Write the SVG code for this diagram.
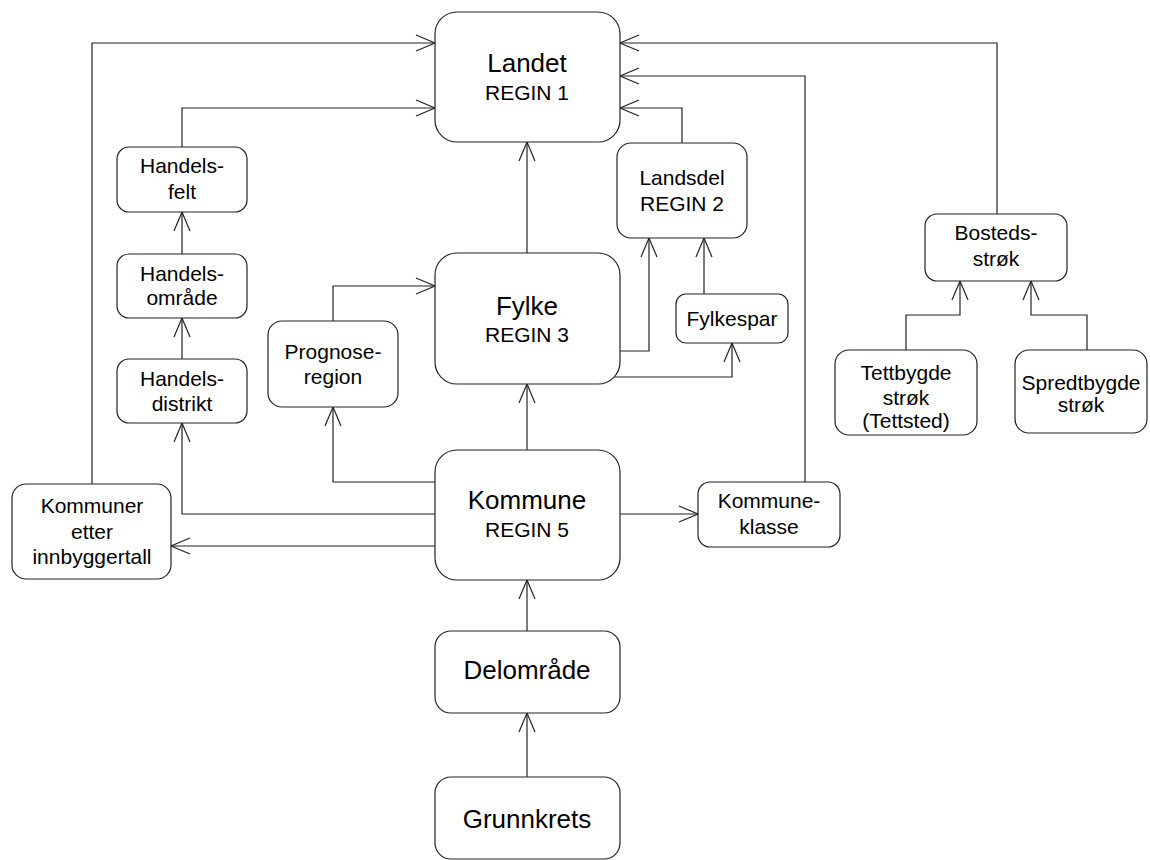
<svg xmlns="http://www.w3.org/2000/svg" width="1150" height="860" viewBox="0 0 1150 860">
<style>
.box{fill:#fff;stroke:#222;stroke-width:1.2}
.ln{fill:none;stroke:#222;stroke-width:1.2;marker-end:url(#ah)}
.lnn{fill:none;stroke:#222;stroke-width:1.2}
text{font-family:"Liberation Sans",Arial,sans-serif;fill:#000;text-anchor:middle}
.big{font-size:26px}
.sm{font-size:21px}
</style>
<defs>
<marker id="ah" markerUnits="userSpaceOnUse" markerWidth="24" markerHeight="20" viewBox="-20 -10 24 20" refX="0" refY="0" orient="auto">
<path d="M-19,-8 L0,0 L-19,8" fill="none" stroke="#222" stroke-width="1.2"/>
</marker>
</defs>
<rect width="1150" height="860" fill="#fff"/>
<g id="connectors">
<path class="ln" d="M92,484 V43 H435"/>
<path class="ln" d="M182,147 V108 H435"/>
<path class="ln" d="M997,214 V43 H620"/>
<path class="ln" d="M805,482 V76 H620"/>
<path class="ln" d="M682,143 V108 H620"/>
<path class="ln" d="M527,253 V142"/>
<path class="ln" d="M620,351 H649 V238"/>
<path class="ln" d="M613,377 H732 V343"/>
<path class="ln" d="M704,294 V238"/>
<path class="ln" d="M527,450 V384"/>
<path class="ln" d="M620,514 H698"/>
<path class="ln" d="M182,359 V318"/>
<path class="ln" d="M182,254 V212"/>
<path class="ln" d="M333,321 V286 H435"/>
<path class="ln" d="M435,482 H333 V407"/>
<path class="ln" d="M435,514 H182 V423"/>
<path class="ln" d="M435,546 H171"/>
<path class="ln" d="M527,631 V580"/>
<path class="ln" d="M527,777 V713"/>
<path class="ln" d="M906,350 V315 H960 V281"/>
<path class="ln" d="M1087,350 V315 H1031 V281"/>
</g>
<g id="landet"><rect class="box" x="435" y="12" width="185" height="130" rx="22"/><text class="big" x="527" y="72">Landet</text><text class="sm" x="527" y="100">REGIN 1</text></g>
<g id="handelsfelt"><rect class="box" x="117" y="147" width="130" height="65" rx="12"/><text class="sm" x="182" y="173">Handels-</text><text class="sm" x="182" y="199">felt</text></g>
<g id="handelsomrade"><rect class="box" x="117" y="254" width="130" height="64" rx="12"/><text class="sm" x="182" y="281">Handels-</text><text class="sm" x="182" y="305">område</text></g>
<g id="handelsdistrikt"><rect class="box" x="117" y="359" width="130" height="64" rx="12"/><text class="sm" x="182" y="386">Handels-</text><text class="sm" x="182" y="411">distrikt</text></g>
<g id="prognoseregion"><rect class="box" x="268" y="321" width="130" height="86" rx="14"/><text class="sm" x="333" y="359">Prognose-</text><text class="sm" x="333" y="384">region</text></g>
<g id="kommuner-etter"><rect class="box" x="12" y="484" width="159" height="95" rx="14"/><text class="sm" x="92" y="513">Kommuner</text><text class="sm" x="92" y="539">etter</text><text class="sm" x="92" y="564">innbyggertall</text></g>
<g id="landsdel"><rect class="box" x="617" y="143" width="130" height="95" rx="14"/><text class="sm" x="682" y="185">Landsdel</text><text class="sm" x="682" y="211">REGIN 2</text></g>
<g id="fylke"><rect class="box" x="435" y="253" width="185" height="131" rx="22"/><text class="big" x="527" y="315">Fylke</text><text class="sm" x="527" y="342">REGIN 3</text></g>
<g id="fylkespar"><rect class="box" x="676" y="294" width="112" height="49" rx="10"/><text class="sm" x="732" y="326">Fylkespar</text></g>
<g id="kommune"><rect class="box" x="435" y="450" width="185" height="130" rx="22"/><text class="big" x="527" y="509">Kommune</text><text class="sm" x="527" y="537">REGIN 5</text></g>
<g id="kommuneklasse"><rect class="box" x="698" y="482" width="142" height="65" rx="12"/><text class="sm" x="769" y="508">Kommune-</text><text class="sm" x="769" y="534">klasse</text></g>
<g id="delomrade"><rect class="box" x="435" y="631" width="185" height="82" rx="16"/><text class="big" x="527" y="679">Delområde</text></g>
<g id="grunnkrets"><rect class="box" x="435" y="777" width="185" height="82" rx="16"/><text class="big" x="527" y="828">Grunnkrets</text></g>
<g id="bostedsstrok"><rect class="box" x="925" y="214" width="142" height="67" rx="12"/><text class="sm" x="996" y="240">Bosteds-</text><text class="sm" x="996" y="266">strøk</text></g>
<g id="tettbygde"><rect class="box" x="835" y="350" width="142" height="85" rx="14"/><text class="sm" x="906" y="380">Tettbygde</text><text class="sm" x="906" y="405">strøk</text><text class="sm" x="906" y="428">(Tettsted)</text></g>
<g id="spredtbygde"><rect class="box" x="1015" y="350" width="132" height="83" rx="14"/><text class="sm" x="1081" y="390">Spredtbygde</text><text class="sm" x="1081" y="412">strøk</text></g>
</svg>
